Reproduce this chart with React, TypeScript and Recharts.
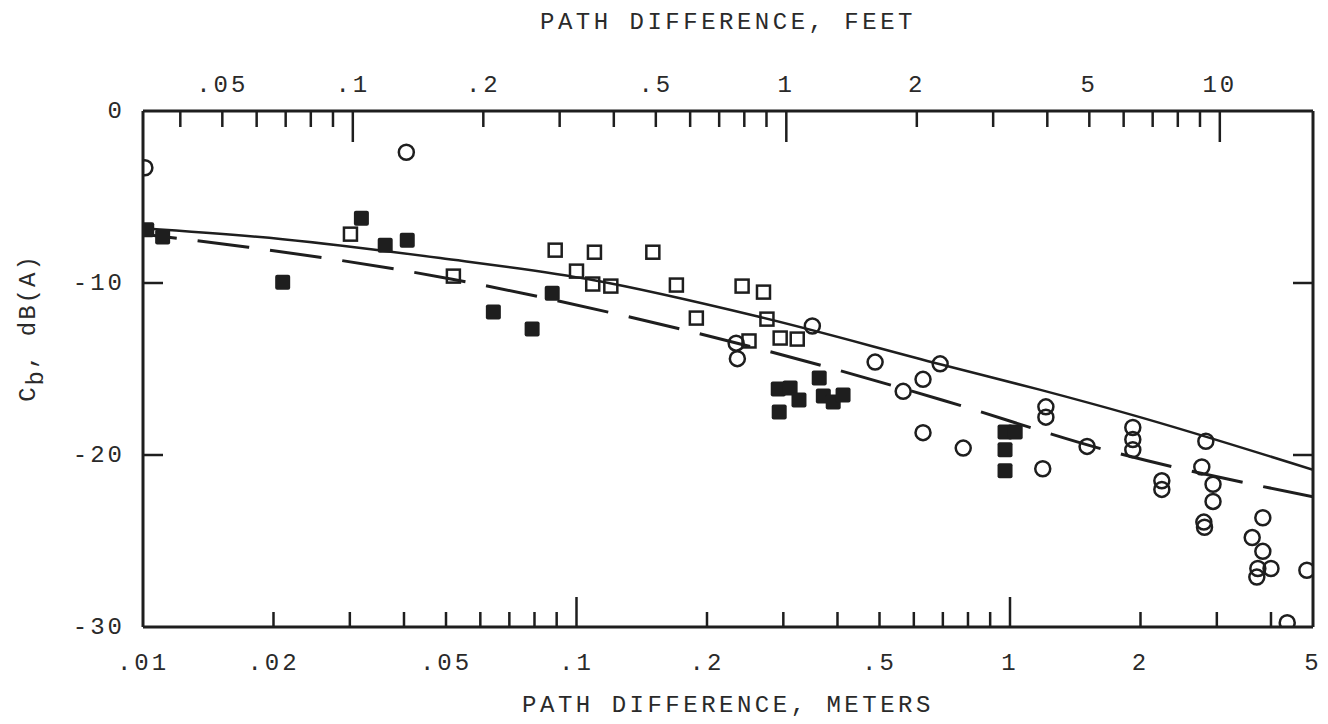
import React from 'react';
import { ScatterChart, Scatter, XAxis, YAxis } from 'recharts';

// path difference (m) vs C_b (dB(A))
const OPEN_CIRCLES: [number, number][] = [
  [0.0101, -3.3], [0.0405, -2.4], [0.2335, -13.5], [0.235, -14.4], [0.35, -12.5],
  [0.4885, -14.6], [0.567, -16.3], [0.63, -15.6], [0.69, -14.7], [0.63, -18.7],
  [0.78, -19.6], [1.19, -20.8], [1.21, -17.2], [1.21, -17.8], [1.506, -19.5],
  [1.92, -18.4], [1.92, -19.1], [1.92, -19.7], [2.24, -21.5], [2.24, -22.0],
  [2.83, -19.2], [2.77, -20.7], [2.94, -21.7], [2.94, -22.7], [2.8, -23.9],
  [2.81, -24.2], [3.83, -23.65], [3.62, -24.8], [3.83, -25.6], [3.73, -26.6],
  [4.0, -26.6], [3.71, -27.1], [4.84, -26.7], [4.36, -29.75],
];

const OPEN_SQUARES: [number, number][] = [
  [0.0301, -7.16], [0.052, -9.6], [0.0893, -8.09], [0.11, -8.21], [0.15, -8.21],
  [0.1, -9.31], [0.109, -10.06], [0.12, -10.18], [0.17, -10.12], [0.189, -12.04],
  [0.241, -10.18], [0.27, -10.53], [0.275, -12.1], [0.295, -13.2], [0.323, -13.26],
  [0.25, -13.37],
];

const FILLED_SQUARES: [number, number][] = [
  [0.0102, -6.9], [0.0111, -7.33], [0.021, -9.95], [0.0319, -6.23], [0.0362, -7.8],
  [0.0407, -7.51], [0.0643, -11.69], [0.079, -12.68], [0.0879, -10.59],
  [0.292, -16.16], [0.311, -16.1], [0.326, -16.8], [0.2935, -17.5], [0.363, -15.52],
  [0.371, -16.57], [0.391, -16.92], [0.412, -16.51],
  [0.974, -18.66], [1.028, -18.66], [0.974, -19.7], [0.974, -20.92],
];

const SOLID_CURVE: [number, number][] = [
  [0.01, -6.82], [0.021, -7.45], [0.0485, -8.55], [0.109, -9.83], [0.265, -11.98],
  [0.69, -14.72], [1.17, -16.2], [1.92, -17.68], [5, -20.86],
];

const DASHED_CURVE: [number, number][] = [
  [0.01, -7.17], [0.0175, -7.92], [0.0517, -9.78], [0.1235, -11.8], [0.265, -13.84],
  [0.697, -16.8], [1.657, -19.7], [5, -22.43],
];

// axes
const M_DOMAIN = [0.01, 5];
const M_TICKS = [0.01, 0.02, 0.03, 0.04, 0.05, 0.06, 0.07, 0.08, 0.09, 0.1, 0.2, 0.3, 0.4, 0.5, 0.6, 0.7, 0.8, 0.9, 1, 2, 3, 4, 5];
const M_LABELED = [0.01, 0.02, 0.05, 0.1, 0.2, 0.5, 1, 2, 5];
const M_MAJOR = [0.1, 1];

const FT = 0.3048;
const FT_TICKS = [0.04, 0.05, 0.06, 0.07, 0.08, 0.09, 0.1, 0.2, 0.3, 0.4, 0.5, 0.6, 0.7, 0.8, 0.9, 1, 2, 3, 4, 5, 6, 7, 8, 9, 10];
const FT_LABELED = [0.05, 0.1, 0.2, 0.5, 1, 2, 5, 10];
const FT_MAJOR = [0.1, 1, 10];
const FT_DOMAIN = M_DOMAIN.map((v) => v / FT);

const DB_TICKS = [-30, -20, -10, 0];
const DB_INNER = [-20, -10];

const INK = '#1e1e1e';
const FONT = "'Liberation Mono', 'DejaVu Sans Mono', monospace";

const toPts = (arr: [number, number][]) => arr.map(([x, y]) => ({ x, y }));
const fmt = (v: number) => (v < 1 ? String(v).replace(/^0/, '') : String(v));

const textStyle = { fontFamily: FONT, fontSize: 24, letterSpacing: 3, fill: '#2a2a2a' };

const BottomTick = (props: any) => {
  const { x, y, payload } = props;
  const v = payload.value;
  const edge = v === M_DOMAIN[0] || v === M_DOMAIN[1];
  const len = M_MAJOR.includes(v) ? 30 : 15;
  return (
    <g>
      {!edge && <line x1={x} y1={y} x2={x} y2={y - len} stroke={INK} strokeWidth={2.5} />}
      {M_LABELED.includes(v) && (
        <text x={x} y={y + 36} textAnchor="middle" dominantBaseline="central" style={textStyle}>
          {fmt(v)}
        </text>
      )}
    </g>
  );
};

const TopTick = (props: any) => {
  const { x, y, payload } = props;
  const v = payload.value;
  const len = FT_MAJOR.includes(v) ? 31 : 16;
  return (
    <g>
      <line x1={x} y1={y} x2={x} y2={y + len} stroke={INK} strokeWidth={2.5} />
      {FT_LABELED.includes(v) && (
        <text x={x} y={y - 26} textAnchor="middle" dominantBaseline="central" style={textStyle}>
          {fmt(v)}
        </text>
      )}
    </g>
  );
};

const LeftTick = (props: any) => {
  const { x, y, payload } = props;
  const v = payload.value;
  return (
    <g>
      {DB_INNER.includes(v) && <line x1={x} y1={y} x2={x + 20} y2={y} stroke={INK} strokeWidth={2.5} />}
      <text x={x - 18} y={y} textAnchor="end" dominantBaseline="central" style={textStyle}>
        {String(v)}
      </text>
    </g>
  );
};

const RightTick = (props: any) => {
  const { x, y, payload } = props;
  if (!DB_INNER.includes(payload.value)) return <g />;
  return <line x1={x} y1={y} x2={x - 20} y2={y} stroke={INK} strokeWidth={2.5} />;
};

const OpenCircle = ({ cx, cy }: any) => (
  <circle cx={cx} cy={cy} r={7.5} fill="none" stroke={INK} strokeWidth={2.5} />
);
const OpenSquare = ({ cx, cy }: any) => (
  <rect x={cx - 6.5} y={cy - 6.5} width={13} height={13} fill="none" stroke={INK} strokeWidth={2.5} />
);
const FilledSquare = ({ cx, cy }: any) => (
  <rect x={cx - 7.5} y={cy - 7.5} width={15} height={15} rx={2} fill={INK} />
);
const NoDot = () => <g />;

const axisLine = { stroke: INK, strokeWidth: 3 };

const titleStyle: React.CSSProperties = {
  position: 'absolute',
  transform: 'translate(-50%, -50%)',
  fontFamily: FONT,
  fontSize: 24,
  letterSpacing: 3.5,
  color: '#2a2a2a',
  whiteSpace: 'nowrap',
};

export default function App() {
  return (
    <div style={{ position: 'relative', width: 1320, height: 716 }}>
      <ScatterChart width={1320} height={716} margin={{ top: 43, right: 5, bottom: 37, left: 75 }}>
        <XAxis
          dataKey="x"
          type="number"
          scale="log"
          domain={M_DOMAIN}
          ticks={M_TICKS}
          interval={0}
          allowDataOverflow
          height={60}
          tickSize={0}
          tickMargin={0}
          tickLine={false}
          axisLine={axisLine}
          tick={<BottomTick />}
        />
        <XAxis
          xAxisId="ft"
          dataKey="x"
          orientation="top"
          type="number"
          scale="log"
          domain={FT_DOMAIN}
          ticks={FT_TICKS}
          interval={0}
          allowDataOverflow
          height={60}
          tickSize={0}
          tickMargin={0}
          tickLine={false}
          axisLine={axisLine}
          tick={<TopTick />}
        />
        <YAxis
          dataKey="y"
          type="number"
          domain={[-30, 0]}
          ticks={DB_TICKS}
          interval={0}
          allowDataOverflow
          width={60}
          tickSize={0}
          tickMargin={0}
          tickLine={false}
          axisLine={axisLine}
          tick={<LeftTick />}
        />
        <YAxis
          yAxisId="r"
          dataKey="y"
          orientation="right"
          type="number"
          domain={[-30, 0]}
          ticks={DB_TICKS}
          interval={0}
          allowDataOverflow
          width={10}
          tickSize={0}
          tickMargin={0}
          tickLine={false}
          axisLine={axisLine}
          tick={<RightTick />}
        />

        {/* invisible anchor so the feet / right axes have a series of their own */}
        <Scatter
          xAxisId="ft"
          yAxisId="r"
          data={FT_DOMAIN.map((x) => ({ x, y: -30 }))}
          shape={<NoDot />}
          legendType="none"
          isAnimationActive={false}
        />

        <Scatter
          data={toPts(SOLID_CURVE)}
          fill="none"
          line={{ stroke: INK, strokeWidth: 2.5 }}
          lineType="joint"
          lineJointType="monotoneX"
          shape={<NoDot />}
          legendType="none"
          isAnimationActive={false}
        />
        <Scatter
          data={toPts(DASHED_CURVE)}
          fill="none"
          line={{ stroke: INK, strokeWidth: 3, strokeDasharray: '52 21', strokeDashoffset: 18 }}
          lineType="joint"
          lineJointType="monotoneX"
          shape={<NoDot />}
          legendType="none"
          isAnimationActive={false}
        />
        <Scatter data={toPts(OPEN_SQUARES)} shape={<OpenSquare />} isAnimationActive={false} />
        <Scatter data={toPts(OPEN_CIRCLES)} shape={<OpenCircle />} isAnimationActive={false} />
        <Scatter data={toPts(FILLED_SQUARES)} shape={<FilledSquare />} isAnimationActive={false} />
      </ScatterChart>

      <div style={{ ...titleStyle, left: 720, top: 14 }}>PATH DIFFERENCE, FEET</div>
      <div style={{ ...titleStyle, left: 720, top: 697 }}>PATH DIFFERENCE, METERS</div>
      <div
        style={{
          ...titleStyle,
          left: 20,
          top: 320,
          letterSpacing: 2,
          transform: 'translate(-50%, -50%) rotate(-90deg)',
        }}
      >
        C<span style={{ position: 'relative', top: 8 }}>b</span>, dB(A)
      </div>
    </div>
  );
}
